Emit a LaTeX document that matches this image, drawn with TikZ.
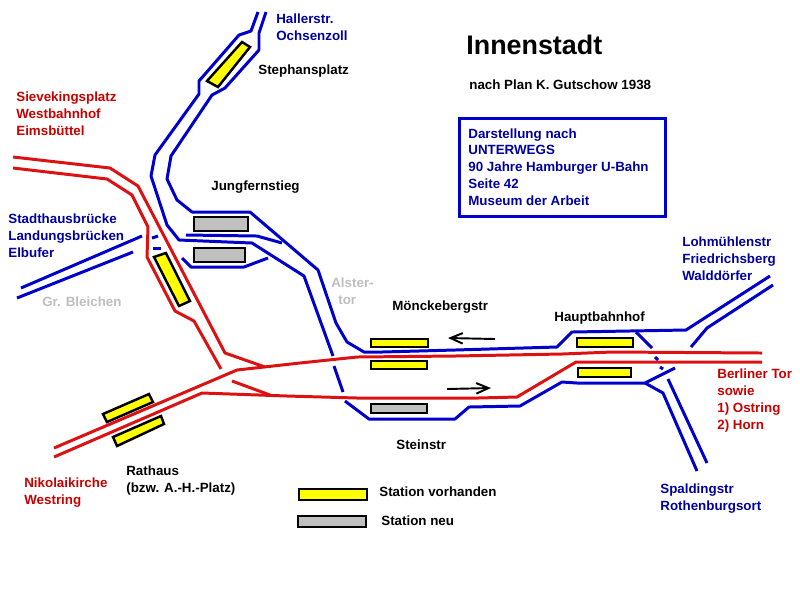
\documentclass[tikz,border=0pt]{standalone}
\usepackage{fontspec}
\setmainfont{Liberation Sans}
\usetikzlibrary{arrows.meta}
\definecolor{Blau}{RGB}{0, 0, 204}
\definecolor{Rot}{RGB}{221, 17, 17}
\definecolor{Gelb}{RGB}{255, 255, 0}
\definecolor{Grau}{RGB}{192, 192, 192}
\definecolor{BlauText}{RGB}{0, 0, 160}
\definecolor{RotText}{RGB}{200, 0, 0}
\definecolor{GrauText}{RGB}{190, 190, 190}

\begin{document}
\begin{tikzpicture}[
        x=0.02cm, y=-0.02cm,
        rail_blue/.style={line width=1.7pt, draw=Blau, line join=round},
        rail_red/.style={line width=1.7pt, draw=Rot, line join=round},
        station_old/.style={line width=1.4pt, draw=black, fill=Gelb},
        station_new/.style={line width=1.4pt, draw=black, fill=Grau},
        run_arrow/.style={line width=1.1pt, draw=black, -{Straight Barb[length=7pt, width=6pt]}},
        tag/.style={anchor=west, align=left, inner sep=0pt, font=\fontsize{7.6}{9.6}\selectfont\bfseries},
        tag_blue/.style={tag, text=BlauText},
        tag_red/.style={tag, text=RotText},
        tag_gray/.style={tag, text=GrauText}
    ]
        \useasboundingbox (0,0) rectangle (800,600);

        % Stationen
        \draw[station_old] (242,42) -- (250,47) -- (218,87) -- (207,81) -- cycle;
        \draw[station_new] (194,217) rectangle (248,231);
        \draw[station_new] (194,248) rectangle (245,262);
        \draw[station_old] (154,257) -- (166,253) -- (190,301) -- (179,306) -- cycle;
        \draw[station_old] (103,414) -- (149,394) -- (153,402) -- (107,422) -- cycle;
        \draw[station_old] (113,437) -- (161,416) -- (164,424) -- (117,446) -- cycle;
        \draw[station_old] (371,339) rectangle (428,347);
        \draw[station_old] (371,361) rectangle (427,369);
        \draw[station_new] (371,404) rectangle (427,413);
        \draw[station_old] (577,338) rectangle (633,347);
        \draw[station_old] (578,368) rectangle (631,377);

        % U-Bahn Nord-Sued, linkes Gleis
        \draw[rail_blue] (258,12) -- (251,31) -- (239,35) -- (199,81) -- (199,94) -- (155,155) -- (151,176) -- (167,225) -- (179,240) -- (252,243) -- (304,276) -- (333,356);
        \draw[rail_blue] (334,366) -- (343,392);
        \draw[rail_blue] (345,401) -- (369,419) -- (455,419) -- (469,407) -- (520,406) -- (562,382) -- (577,383) -- (645,383) -- (675,368);
        \draw[rail_blue] (645,383) -- (663,393) -- (697,471);
        \draw[rail_blue] (668,379) -- (707,463);

        % U-Bahn Nord-Sued, rechtes Gleis
        \draw[rail_blue] (266,12) -- (259,33) -- (259,50) -- (225,88) -- (212,95) -- (171,156) -- (167,179) -- (177,200) -- (192,212) -- (250,212) -- (318,270) -- (336,323) -- (347,342) -- (364,352) -- (382,352) -- (455,350) -- (557,347) -- (572,332) -- (686,330) -- (770,276);
        \draw[rail_blue] (636,332) -- (652,348);
        \draw[rail_blue] (655,357) -- (658,360);
        \draw[rail_blue] (660,367) -- (663,369);
        \draw[rail_blue] (691,347) -- (707,328) -- (773,285);

        % Jungfernstieg, Kehrgleise
        \draw[rail_blue] (186,235) -- (257,236) -- (282,243);
        \draw[rail_blue] (182,258) -- (191,267) -- (244,267) -- (268,258);
        \draw[rail_blue] (142,236) -- (21,288);
        \draw[rail_blue] (133,252) -- (17,298);
        \draw[rail_blue] (152,238) -- (158,236);
        \draw[rail_blue] (153,248) -- (161,248);

        % Ringlinie
        \draw[rail_red] (13,157) -- (110,168) -- (138,186) -- (225,353) -- (265,367);
        \draw[rail_red] (13,168) -- (107,179) -- (132,195) -- (148,227) -- (147,257) -- (175,311) -- (194,321) -- (221,369);
        \draw[rail_red] (54,448) -- (237,370) -- (300,363) -- (357,357) -- (455,356) -- (562,354) -- (612,352) -- (762,353);
        \draw[rail_red] (54,457) -- (202,393) -- (287,396) -- (357,398) -- (478,398) -- (517,397) -- (576,362) -- (762,362);
        \draw[rail_red] (232,381) -- (270,395);

        % Fahrtrichtung
        \draw[run_arrow] (495,339) -- (448,338);
        \draw[run_arrow] (447,389) -- (491,388);

        % Kasten
        \draw[line width=1.7pt, draw=Blau] (459,118) rectangle (665,216);
        \node[tag_blue] (quelle) at (468,167) {Darstellung nach\\UNTERWEGS\\90 Jahre Hamburger U-Bahn\\Seite 42\\Museum der Arbeit};

        % Titel
        \node[tag, font=\fontsize{15.3}{16}\selectfont\bfseries] (titel) at (466,45) {Innenstadt};
        \node[tag] (plan) at (469,85) {nach Plan K. Gutschow 1938};

        % Stationsnamen
        \node[tag] (stephansplatz) at (258,71) {Stephansplatz};
        \node[tag] (jungfernstieg) at (211,187) {Jungfernstieg};
        \node[tag] (moenckeberg) at (392,307) {Mönckebergstr};
        \node[tag] (hbf) at (554,318) {Hauptbahnhof};
        \node[tag] (steinstr) at (396,445) {Steinstr};
        \node[tag] (rathaus) at (126,480.5) {Rathaus\\(bzw. A.-H.-Platz)};
        \node[tag_gray] (bleichen) at (42,302) {Gr. Bleichen};
        \node[tag_gray] (alster) at (331,291) {Alster-\\\hspace*{4pt}tor};

        % Richtungen
        \node[tag_blue] (haller) at (276,27) {Hallerstr.\\Ochsenzoll};
        \node[tag_blue] (stadthaus) at (8,236) {Stadthausbrücke\\Landungsbrücken\\Elbufer};
        \node[tag_blue] (lohmuehle) at (682,259) {Lohmühlenstr\\Friedrichsberg\\Walddörfer};
        \node[tag_blue] (spalding) at (660,498.5) {Spaldingstr\\Rothenburgsort};
        \node[tag_red] (sieveking) at (16,114) {Sievekingsplatz\\Westbahnhof\\Eimsbüttel};
        \node[tag_red] (nikolai) at (24,492.5) {Nikolaikirche\\Westring};
        \node[tag_red] (berliner) at (717,400.5) {Berliner Tor\\sowie\\1) Ostring\\2) Horn};

        % Legende
        \draw[station_old] (299,489) rectangle (367,500);
        \node[tag] (vorhanden) at (379,492) {Station vorhanden};
        \draw[station_new] (298,516) rectangle (366,527);
        \node[tag] (neu) at (381,521) {Station neu};
    \end{tikzpicture}
\end{document}
